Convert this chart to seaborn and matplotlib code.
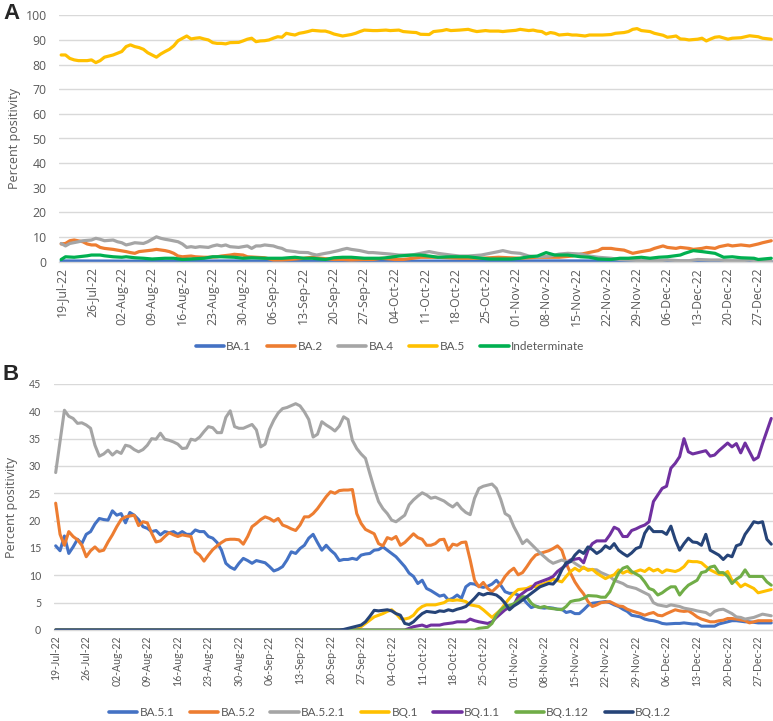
import numpy as np
import pandas as pd
import matplotlib
matplotlib.use("Agg")
import matplotlib.pyplot as plt
from matplotlib.lines import Line2D
import seaborn as sns

# ---------------- DATA (day offset from 19-Jul-22, percent positivity) ----------------
start_date = "2022-07-19"

# Panel A
a_ba1_days = [0, 20, 40, 60, 80, 100, 120, 140, 164]
a_ba1_vals = [0.3, 0.2, 0.3, 0.2, 0.2, 0.3, 0.3, 0.2, 0.1]

a_ba2_days = [0, 1, 2, 3, 5, 6, 7, 8, 9, 10, 12, 13, 15, 16, 17, 18, 20, 21, 22, 24, 25, 26, 27, 28, 30, 31, 33, 34, 36, 37, 39, 40, 42, 43, 45, 47, 49, 51, 53, 56, 58, 60, 63, 65, 67, 70, 72, 74, 77, 79, 83, 87, 92, 97, 101, 106, 110, 115, 118, 121, 124, 125, 127, 128, 130, 132, 134, 136, 137, 139, 140, 142, 143, 145, 146, 148, 149, 151, 152, 154, 155, 157, 159, 161, 162, 164]
a_ba2_vals = [7.2, 7.4, 8.5, 8.8, 8.1, 7.2, 6.8, 6.8, 5.8, 5.4, 5.0, 4.7, 4.1, 3.7, 3.4, 4.1, 4.5, 4.7, 5.0, 4.5, 4.1, 3.4, 2.3, 2.0, 2.3, 2.0, 1.8, 1.8, 2.0, 2.3, 2.7, 3.0, 2.7, 2.0, 1.8, 1.6, 0.7, 0.7, 0.9, 1.4, 1.8, 1.4, 0.9, 0.9, 0.7, 0.9, 0.9, 1.4, 0.9, 0.9, 1.8, 1.8, 1.4, 1.4, 1.8, 1.4, 1.8, 1.8, 2.3, 3.4, 4.5, 5.4, 5.4, 5.1, 4.7, 3.4, 4.1, 4.7, 5.4, 6.4, 5.8, 5.4, 5.8, 5.4, 5.0, 5.4, 5.8, 5.4, 6.1, 6.8, 6.4, 6.8, 6.4, 7.2, 7.7, 8.5]

a_ba4_days = [0, 1, 2, 4, 5, 7, 8, 9, 10, 12, 13, 14, 15, 16, 17, 19, 20, 21, 22, 23, 24, 25, 27, 28, 29, 30, 31, 32, 34, 35, 36, 37, 38, 39, 41, 42, 43, 44, 45, 46, 47, 49, 50, 51, 52, 54, 55, 57, 58, 59, 61, 62, 64, 65, 66, 67, 69, 71, 72, 74, 76, 78, 81, 83, 85, 87, 90, 92, 94, 97, 99, 101, 102, 104, 106, 108, 110, 113, 115, 117, 120, 122, 124, 127, 129, 131, 134, 136, 138, 140, 143, 145, 147, 150, 152, 154, 157, 159, 161, 164]
a_ba4_vals = [7.4, 6.4, 7.4, 8.1, 8.5, 8.8, 9.5, 9.1, 8.5, 8.8, 8.1, 7.7, 6.8, 7.2, 7.7, 7.4, 8.1, 9.1, 10.1, 9.5, 9.1, 8.8, 8.1, 7.2, 5.8, 6.1, 5.8, 6.1, 5.8, 6.4, 6.8, 6.4, 6.8, 6.1, 5.8, 6.1, 6.4, 5.4, 6.4, 6.4, 6.8, 6.4, 5.8, 5.4, 4.5, 4.1, 3.8, 3.7, 3.1, 2.7, 3.4, 3.7, 4.5, 5.0, 5.4, 5.0, 4.5, 3.7, 3.7, 3.4, 3.1, 2.7, 2.7, 3.4, 4.1, 3.4, 2.7, 2.3, 2.3, 2.7, 3.4, 4.1, 4.5, 3.7, 3.4, 2.3, 2.0, 2.3, 3.1, 3.4, 3.1, 2.3, 1.8, 1.4, 0.9, 0.7, 0.4, 0.4, 0.4, 0.7, 0.4, 0.4, 0.9, 0.7, 0.7, 0.4, 0.4, 0.7, 0.3, 0.3]

a_ba5_days = [0, 1, 2, 3, 4, 6, 7, 8, 9, 10, 12, 13, 14, 15, 16, 17, 18, 19, 20, 22, 23, 24, 25, 26, 27, 29, 30, 31, 32, 33, 34, 35, 36, 37, 38, 39, 41, 42, 43, 44, 45, 46, 47, 48, 49, 50, 51, 52, 53, 54, 55, 56, 57, 58, 60, 61, 62, 63, 64, 65, 67, 68, 69, 70, 72, 73, 75, 76, 78, 79, 81, 82, 83, 85, 86, 88, 89, 90, 92, 94, 95, 96, 98, 99, 101, 102, 103, 105, 106, 108, 109, 110, 111, 112, 113, 114, 115, 117, 118, 119, 121, 122, 124, 125, 127, 128, 130, 131, 132, 133, 134, 135, 136, 137, 139, 140, 141, 142, 143, 144, 145, 147, 148, 149, 150, 151, 152, 154, 155, 157, 158, 159, 161, 162, 164]
a_ba5_vals = [83.9, 83.9, 82.5, 81.9, 81.6, 81.6, 81.9, 80.8, 81.6, 83.0, 83.9, 84.6, 85.3, 87.3, 88.0, 87.3, 86.9, 86.2, 84.8, 83.0, 84.3, 85.3, 86.2, 87.6, 89.7, 91.6, 90.4, 90.7, 90.9, 90.4, 90.0, 88.9, 88.6, 88.6, 88.4, 88.9, 89.0, 89.6, 90.3, 90.7, 89.3, 89.6, 89.7, 90.0, 90.7, 91.3, 91.1, 92.7, 92.3, 92.0, 92.7, 93.0, 93.4, 93.9, 93.6, 93.6, 93.1, 92.4, 92.0, 91.6, 92.2, 92.7, 93.4, 94.0, 93.8, 93.8, 94.0, 93.8, 94.0, 93.4, 93.1, 93.0, 92.3, 92.2, 93.4, 93.8, 94.2, 93.8, 94.0, 94.3, 93.8, 93.4, 93.8, 93.6, 93.6, 93.4, 93.6, 93.9, 94.3, 93.8, 94.0, 93.6, 93.4, 92.4, 93.0, 92.7, 92.0, 92.3, 92.0, 92.0, 91.6, 92.0, 92.0, 92.0, 92.2, 92.7, 93.0, 93.4, 94.3, 94.6, 93.8, 93.6, 93.4, 92.7, 91.9, 91.1, 91.3, 91.6, 90.4, 90.3, 90.0, 90.3, 90.7, 89.6, 90.4, 91.1, 91.3, 90.3, 90.7, 90.9, 91.3, 91.7, 91.3, 90.7, 90.3]

a_ind_days = [0, 1, 3, 4, 6, 7, 9, 10, 12, 14, 15, 17, 19, 21, 24, 26, 28, 30, 33, 35, 37, 40, 42, 44, 47, 49, 51, 54, 56, 58, 61, 63, 65, 67, 70, 72, 74, 76, 78, 81, 83, 85, 87, 90, 92, 94, 97, 99, 101, 104, 106, 108, 110, 112, 114, 115, 117, 120, 122, 124, 127, 129, 131, 134, 136, 138, 140, 143, 144, 146, 148, 151, 153, 155, 157, 160, 161, 164]
a_ind_vals = [0.9, 2.0, 1.8, 2.0, 2.4, 2.7, 2.7, 2.4, 2.0, 1.8, 2.0, 1.6, 1.4, 1.1, 1.4, 1.4, 0.9, 1.1, 1.4, 2.0, 2.0, 1.8, 1.4, 1.6, 1.4, 1.4, 1.4, 1.8, 1.4, 1.4, 0.9, 1.6, 1.8, 1.8, 1.4, 1.4, 1.4, 1.8, 2.3, 2.7, 2.7, 2.3, 1.8, 2.0, 2.0, 2.0, 1.4, 1.1, 1.1, 1.1, 1.4, 2.0, 2.3, 3.7, 2.7, 2.7, 2.7, 2.0, 1.8, 1.1, 0.9, 1.4, 1.4, 1.8, 1.4, 1.8, 2.0, 2.7, 3.4, 4.5, 4.1, 3.4, 1.8, 2.0, 1.6, 1.4, 0.9, 1.4]

# Panel B
b_ba51_days = [0, 1, 2, 3, 4, 5, 6, 7, 8, 9, 10, 11, 12, 13, 14, 15, 16, 17, 18, 19, 20, 21, 22, 23, 24, 25, 26, 27, 28, 29, 30, 31, 32, 33, 34, 35, 36, 37, 38, 39, 40, 41, 42, 43, 44, 45, 46, 47, 48, 49, 50, 51, 52, 53, 54, 55, 56, 57, 58, 59, 60, 61, 62, 63, 64, 65, 66, 67, 68, 69, 70, 71, 72, 73, 74, 75, 76, 77, 78, 79, 80, 81, 82, 83, 84, 85, 86, 87, 88, 89, 90, 91, 92, 93, 94, 95, 96, 97, 98, 99, 100, 101, 102, 103, 104, 105, 106, 107, 108, 109, 110, 111, 112, 113, 114, 115, 116, 117, 118, 119, 120, 121, 122, 123, 124, 126, 127, 128, 129, 130, 131, 132, 134, 135, 136, 137, 138, 139, 140, 142, 143, 144, 145, 146, 147, 148, 150, 151, 152, 153, 155, 156, 158, 159, 161, 163, 164]
b_ba51_vals = [15.4, 14.5, 17.2, 14.0, 15.2, 16.6, 15.8, 17.5, 18.0, 19.4, 20.4, 20.2, 20.1, 21.8, 21.0, 21.3, 19.6, 21.5, 21.0, 20.2, 18.9, 18.6, 18.0, 18.2, 17.4, 18.0, 17.8, 18.0, 17.5, 18.0, 17.5, 17.5, 18.3, 18.0, 18.0, 17.1, 16.8, 16.0, 14.6, 12.2, 11.5, 11.1, 12.2, 13.1, 12.7, 12.2, 12.7, 12.5, 12.3, 11.6, 10.8, 11.1, 11.6, 12.8, 14.3, 14.0, 14.9, 15.5, 16.8, 17.5, 16.0, 14.6, 15.5, 14.6, 13.9, 12.7, 12.9, 12.9, 13.1, 12.9, 13.7, 13.9, 14.0, 14.6, 14.7, 15.2, 14.6, 14.0, 13.4, 12.5, 11.6, 10.4, 9.8, 8.5, 9.1, 7.6, 7.2, 6.7, 6.2, 6.4, 5.5, 5.8, 6.4, 5.8, 7.9, 8.5, 8.4, 8.0, 7.8, 8.0, 8.4, 9.1, 8.2, 7.0, 6.7, 6.7, 6.4, 5.8, 4.9, 4.1, 4.4, 4.1, 4.0, 4.1, 4.0, 3.8, 3.8, 3.2, 3.4, 3.0, 3.0, 3.7, 4.5, 4.9, 5.0, 5.2, 5.0, 4.6, 4.3, 3.8, 3.4, 2.7, 2.4, 2.0, 1.8, 1.7, 1.5, 1.2, 1.1, 1.2, 1.2, 1.3, 1.2, 1.1, 1.1, 0.7, 0.7, 0.7, 1.1, 1.3, 1.7, 1.7, 1.5, 1.5, 1.3, 1.3, 1.3]

b_ba52_days = [0, 1, 2, 3, 4, 5, 6, 7, 8, 9, 10, 11, 12, 13, 14, 15, 16, 18, 19, 20, 21, 22, 23, 24, 25, 26, 27, 28, 29, 31, 32, 33, 34, 35, 36, 37, 38, 39, 40, 41, 42, 43, 44, 45, 46, 47, 48, 49, 50, 51, 52, 53, 54, 55, 56, 57, 58, 59, 60, 61, 62, 63, 64, 65, 66, 67, 68, 69, 70, 71, 72, 73, 74, 75, 76, 77, 78, 79, 80, 81, 82, 83, 84, 85, 86, 87, 88, 89, 90, 91, 92, 93, 94, 95, 96, 97, 98, 99, 100, 102, 103, 104, 105, 106, 107, 108, 109, 110, 111, 113, 114, 115, 116, 117, 118, 119, 120, 121, 122, 123, 124, 125, 127, 128, 129, 130, 131, 132, 134, 135, 136, 137, 138, 139, 140, 142, 143, 144, 145, 146, 147, 148, 150, 151, 152, 153, 154, 155, 156, 158, 159, 160, 161, 162, 164]
b_ba52_vals = [23.2, 17.5, 15.5, 18.0, 17.1, 16.5, 15.5, 13.4, 14.5, 15.2, 14.4, 14.6, 16.1, 17.4, 18.9, 20.2, 20.7, 21.0, 19.1, 19.8, 19.6, 17.7, 16.1, 16.3, 17.1, 17.8, 17.4, 17.1, 17.4, 17.1, 14.3, 13.7, 12.6, 13.7, 14.7, 15.4, 16.0, 16.5, 16.6, 16.6, 16.5, 15.7, 17.1, 18.9, 19.5, 20.2, 20.7, 20.4, 19.9, 20.4, 19.2, 18.9, 18.5, 18.2, 19.2, 20.7, 20.7, 21.3, 22.2, 23.3, 24.4, 25.3, 25.0, 25.5, 25.6, 25.6, 25.7, 21.3, 19.5, 18.4, 18.0, 17.6, 15.8, 15.4, 16.9, 16.6, 17.1, 15.5, 16.0, 16.8, 17.6, 16.9, 16.6, 15.5, 15.5, 15.8, 16.5, 16.6, 14.6, 15.7, 15.5, 16.0, 16.1, 12.8, 9.1, 7.9, 8.7, 7.6, 7.0, 8.5, 9.8, 10.7, 11.3, 10.1, 10.5, 11.6, 12.8, 13.7, 14.0, 14.5, 14.9, 15.4, 14.6, 12.2, 10.4, 8.8, 7.6, 6.6, 5.2, 4.3, 4.6, 5.0, 5.2, 4.8, 4.4, 4.3, 3.8, 3.5, 3.0, 2.7, 3.0, 3.2, 2.7, 2.6, 3.0, 3.7, 3.5, 3.4, 3.5, 3.0, 2.4, 2.0, 1.5, 1.5, 1.7, 1.8, 2.1, 2.1, 2.0, 1.7, 1.3, 1.5, 1.7, 1.7, 1.7]

b_ba521_days = [0, 2, 3, 4, 5, 6, 7, 8, 9, 10, 11, 12, 13, 14, 15, 16, 17, 18, 19, 20, 21, 22, 23, 24, 25, 26, 27, 28, 29, 30, 31, 32, 33, 34, 35, 36, 37, 38, 39, 40, 41, 42, 43, 45, 46, 47, 48, 49, 50, 51, 52, 53, 55, 56, 57, 58, 59, 60, 61, 62, 63, 64, 65, 66, 67, 68, 69, 70, 71, 72, 73, 74, 75, 76, 77, 78, 79, 80, 81, 82, 83, 84, 85, 86, 87, 89, 90, 91, 92, 93, 94, 95, 96, 97, 98, 100, 101, 102, 103, 104, 105, 106, 107, 108, 110, 111, 112, 113, 114, 116, 117, 118, 119, 120, 121, 122, 124, 125, 127, 128, 130, 131, 133, 134, 136, 137, 138, 140, 141, 143, 144, 146, 147, 149, 150, 151, 152, 153, 155, 156, 157, 158, 160, 161, 162, 164]
b_ba521_vals = [28.8, 40.2, 39.1, 38.7, 37.8, 37.9, 37.5, 36.9, 33.8, 31.8, 32.2, 32.9, 32.0, 32.7, 32.3, 33.8, 33.6, 33.0, 32.6, 33.0, 33.8, 35.0, 34.9, 36.0, 34.9, 34.7, 34.4, 34.0, 33.2, 33.3, 34.9, 34.7, 35.3, 36.3, 37.2, 37.0, 36.1, 36.1, 38.9, 40.1, 37.2, 36.9, 36.9, 37.6, 36.6, 33.5, 34.0, 36.7, 38.4, 39.7, 40.5, 40.7, 41.4, 41.0, 39.9, 38.5, 35.3, 35.8, 38.1, 37.5, 37.0, 36.4, 37.3, 39.0, 38.5, 34.7, 33.2, 32.2, 31.4, 28.6, 25.9, 23.5, 22.2, 21.3, 20.1, 19.8, 20.4, 21.0, 22.9, 23.8, 24.5, 25.1, 24.7, 24.1, 24.3, 23.6, 23.0, 22.5, 23.2, 22.2, 21.5, 21.1, 24.1, 25.9, 26.3, 26.7, 25.9, 23.9, 21.3, 20.8, 18.9, 17.4, 15.8, 16.5, 14.9, 14.1, 13.4, 12.7, 12.2, 12.8, 12.5, 12.8, 12.2, 11.7, 11.3, 11.1, 11.0, 10.5, 9.8, 9.1, 8.5, 8.0, 7.6, 7.2, 6.4, 5.0, 4.6, 4.3, 4.6, 4.3, 4.0, 3.7, 3.5, 3.2, 2.7, 3.4, 3.7, 3.8, 3.0, 2.4, 2.3, 2.0, 2.3, 2.6, 2.9, 2.6]

b_bq1_days = [0, 68, 69, 70, 71, 72, 73, 74, 75, 76, 77, 78, 79, 80, 81, 82, 83, 84, 85, 87, 88, 89, 90, 91, 92, 93, 94, 95, 97, 98, 99, 100, 101, 102, 103, 104, 105, 106, 108, 109, 110, 111, 112, 113, 114, 116, 117, 118, 119, 120, 121, 122, 123, 124, 126, 127, 128, 129, 130, 131, 132, 134, 135, 136, 137, 138, 139, 140, 142, 143, 144, 145, 146, 147, 148, 149, 150, 152, 153, 154, 155, 156, 157, 158, 160, 161, 162, 164]
b_bq1_vals = [0.0, 0.0, 0.1, 0.6, 1.2, 1.8, 2.4, 2.7, 3.0, 3.4, 3.7, 3.0, 2.1, 2.0, 2.2, 2.7, 3.7, 4.3, 4.6, 4.6, 4.8, 5.0, 5.5, 5.4, 5.5, 5.4, 5.2, 4.6, 4.3, 3.7, 3.0, 2.3, 3.0, 3.7, 4.8, 5.8, 6.7, 7.4, 7.6, 8.0, 7.9, 8.2, 8.5, 8.8, 9.3, 8.8, 9.8, 10.7, 11.3, 10.8, 11.5, 10.9, 11.1, 10.4, 9.4, 9.8, 10.1, 11.0, 10.4, 10.8, 10.4, 11.0, 10.7, 11.3, 10.8, 11.1, 10.5, 11.0, 10.7, 11.0, 11.6, 12.6, 12.5, 12.5, 12.3, 11.6, 11.0, 10.2, 10.1, 10.7, 9.1, 8.8, 7.9, 8.4, 7.6, 6.8, 7.0, 7.4]

b_bq11_days = [0, 80, 81, 82, 84, 85, 86, 88, 89, 91, 92, 94, 95, 96, 97, 99, 100, 101, 102, 103, 105, 106, 107, 108, 109, 110, 111, 113, 114, 115, 116, 117, 118, 120, 121, 122, 123, 124, 126, 127, 128, 129, 130, 131, 132, 133, 134, 135, 136, 137, 138, 139, 140, 141, 142, 143, 144, 145, 146, 147, 149, 150, 151, 152, 153, 154, 155, 156, 157, 158, 160, 161, 162, 164]
b_bq11_vals = [0.0, 0.0, 0.3, 0.6, 0.9, 0.6, 0.9, 0.9, 1.1, 1.3, 1.5, 1.5, 2.0, 1.7, 1.5, 1.2, 1.5, 2.3, 3.0, 3.7, 4.6, 6.1, 6.7, 7.3, 7.6, 8.5, 8.8, 9.4, 9.8, 10.7, 11.3, 11.9, 12.8, 13.1, 12.3, 14.6, 15.8, 16.3, 16.3, 17.4, 18.8, 18.4, 17.1, 17.1, 18.2, 18.5, 18.9, 19.2, 19.8, 23.5, 24.7, 25.9, 26.3, 29.6, 30.5, 31.7, 35.0, 32.6, 32.2, 32.4, 32.8, 31.8, 32.0, 32.8, 33.5, 34.2, 33.5, 34.1, 32.4, 34.2, 31.1, 31.6, 34.1, 38.7]

b_bq112_days = [0, 96, 97, 99, 100, 101, 102, 103, 104, 105, 106, 107, 108, 109, 110, 111, 112, 113, 115, 116, 117, 118, 119, 120, 121, 122, 124, 125, 126, 127, 128, 129, 130, 131, 132, 134, 135, 136, 137, 138, 139, 140, 141, 142, 143, 144, 145, 147, 148, 149, 150, 151, 152, 153, 154, 155, 156, 157, 158, 159, 160, 161, 162, 163, 164]
b_bq112_vals = [0.0, 0.0, 0.3, 0.5, 1.2, 2.7, 3.7, 4.3, 4.5, 4.8, 5.4, 6.1, 6.0, 4.9, 4.3, 4.1, 4.3, 4.0, 3.8, 3.7, 4.3, 5.2, 5.4, 5.5, 5.8, 6.3, 6.2, 6.0, 6.0, 7.0, 8.8, 10.4, 11.3, 11.6, 10.7, 9.8, 8.8, 7.6, 7.3, 6.4, 6.8, 7.4, 7.9, 7.9, 6.4, 7.4, 8.2, 9.1, 10.5, 10.7, 11.5, 11.7, 10.5, 10.5, 9.8, 8.5, 9.3, 9.8, 11.0, 9.8, 9.8, 9.8, 9.8, 8.8, 8.2]

b_bq12_days = [0, 65, 66, 67, 68, 69, 70, 71, 72, 73, 74, 75, 76, 77, 78, 79, 80, 81, 82, 83, 84, 85, 86, 87, 88, 89, 90, 91, 92, 93, 94, 95, 96, 97, 98, 99, 100, 101, 102, 103, 104, 105, 106, 107, 108, 109, 110, 111, 112, 113, 114, 115, 116, 117, 118, 119, 120, 121, 122, 123, 124, 125, 126, 127, 128, 129, 130, 131, 132, 133, 134, 135, 136, 137, 138, 139, 140, 141, 142, 143, 144, 145, 146, 147, 148, 149, 150, 152, 153, 154, 155, 156, 157, 158, 159, 160, 161, 162, 163, 164]
b_bq12_vals = [0.0, 0.0, 0.1, 0.3, 0.5, 0.7, 0.9, 1.5, 2.5, 3.6, 3.5, 3.6, 3.7, 3.5, 3.0, 2.7, 1.2, 1.0, 1.5, 2.3, 3.0, 3.4, 3.3, 3.2, 3.5, 3.4, 3.7, 3.5, 3.8, 4.0, 4.3, 5.0, 5.8, 6.7, 6.4, 6.7, 6.6, 6.4, 5.8, 4.9, 3.7, 4.4, 4.9, 5.5, 6.1, 6.7, 7.3, 7.9, 8.2, 8.5, 8.4, 9.3, 11.0, 12.3, 12.5, 13.7, 14.5, 14.0, 15.2, 14.7, 14.0, 14.5, 15.4, 14.9, 15.8, 14.6, 14.0, 13.5, 14.1, 14.9, 15.2, 17.7, 18.9, 18.0, 18.0, 18.0, 17.5, 19.0, 16.5, 14.6, 15.8, 16.8, 16.1, 16.0, 15.5, 17.5, 14.6, 13.7, 12.9, 13.7, 13.4, 15.4, 15.7, 17.5, 18.6, 19.8, 19.6, 19.8, 16.6, 15.7]

a_series = ["BA.1", "BA.2", "BA.4", "BA.5", "Indeterminate"]
b_series = ["BA.5.1", "BA.5.2", "BA.5.2.1", "BQ.1", "BQ.1.1", "BQ.1.12", "BQ.1.2"]
n_days = 165
tick_every = 7

# ---------------- STYLE ----------------
colors_a = {"BA.1": "#4472C4", "BA.2": "#ED7D31", "BA.4": "#A5A5A5",
            "BA.5": "#FFC000", "Indeterminate": "#00B050"}
colors_b = {"BA.5.1": "#4472C4", "BA.5.2": "#ED7D31", "BA.5.2.1": "#A5A5A5",
            "BQ.1": "#FFC000", "BQ.1.1": "#7030A0", "BQ.1.12": "#70AD47",
            "BQ.1.2": "#264478"}

sns.set_theme(style="white")
plt.rcParams["font.family"] = ["Open Sans", "DejaVu Sans"]

def frame(names, pairs):
    rows = []
    for name, (d, v) in zip(names, pairs):
        rows.append(pd.DataFrame({"day": d, "pct": v, "variant": name}))
    return pd.concat(rows, ignore_index=True)

df_a = frame(a_series, [(a_ba1_days, a_ba1_vals), (a_ba2_days, a_ba2_vals),
                        (a_ba4_days, a_ba4_vals), (a_ba5_days, a_ba5_vals),
                        (a_ind_days, a_ind_vals)])
df_b = frame(b_series, [(b_ba51_days, b_ba51_vals), (b_ba52_days, b_ba52_vals),
                        (b_ba521_days, b_ba521_vals), (b_bq1_days, b_bq1_vals),
                        (b_bq11_days, b_bq11_vals), (b_bq112_days, b_bq112_vals),
                        (b_bq12_days, b_bq12_vals)])

W, H = 773, 721
fig = plt.figure(figsize=(W / 100, H / 100), dpi=100)

def px_axes(l, t, r, b):
    return fig.add_axes([l / W, 1 - b / H, (r - l) / W, (b - t) / H])

ax_a = px_axes(59, 15.3, 773, 261.7)
ax_b = px_axes(53.5, 384, 773, 630)

tick_pos = list(range(0, n_days, tick_every))
tick_lab = pd.date_range(start_date, periods=len(tick_pos), freq=f"{tick_every}D").strftime("%d-%b-%y")

def style_axis(ax, ymax, ystep, tick_font, tick_size, lab_pad, ylab_pad):
    ax.set_xlim(-0.5, 164.4)
    ax.set_ylim(0, ymax)
    ax.set_yticks(np.arange(0, ymax + 0.1, ystep))
    ax.set_xticks(tick_pos)
    ax.set_xticklabels(tick_lab, rotation=90, fontsize=tick_size,
                       color="#595959", family=tick_font)
    for t in ax.get_yticklabels():
        t.set_fontsize(tick_size)
        t.set_color("#595959")
        t.set_family(tick_font)
    ax.tick_params(axis="both", length=0)
    ax.tick_params(axis="y", pad=lab_pad)
    ax.tick_params(axis="x", pad=4)
    ax.yaxis.grid(True, color="#D9D9D9", lw=1.0)
    ax.set_axisbelow(True)
    for s in ["top", "right", "left"]:
        ax.spines[s].set_visible(False)
    ax.spines["bottom"].set_color("#D9D9D9")
    ax.spines["bottom"].set_linewidth(1.0)
    ax.set_xlabel("")
    ax.set_ylabel("Percent positivity", fontsize=9, color="#595959",
                  family=["Open Sans", "DejaVu Sans"], labelpad=ylab_pad)

sns.lineplot(data=df_a, x="day", y="pct", hue="variant", hue_order=a_series,
             palette=colors_a, estimator=None, sort=True, linewidth=2.3,
             legend=False, ax=ax_a)
style_axis(ax_a, 100, 10, ["Open Sans", "DejaVu Sans"], 8.8, 9, 3)

sns.lineplot(data=df_b, x="day", y="pct", hue="variant", hue_order=b_series,
             palette=colors_b, estimator=None, sort=True, linewidth=2.2,
             legend=False, ax=ax_b)
style_axis(ax_b, 45, 5, ["Lato", "DejaVu Sans"], 7.6, 9, 8)

leg_font = {"family": ["Lato", "DejaVu Sans"], "size": 8.5}
for ax, names, cols, y in [(ax_a, a_series, colors_a, 1 - 347 / H),
                           (ax_b, b_series, colors_b, 1 - 713 / H)]:
    handles = [Line2D([0], [0], color=cols[n], lw=2.6) for n in names]
    leg = fig.legend(handles, names, loc="center", bbox_to_anchor=(390 / W, y),
                     ncol=len(names), frameon=False, prop=leg_font,
                     handlelength=2.4, handletextpad=0.2, columnspacing=1.3,
                     borderaxespad=0)
    for t in leg.get_texts():
        t.set_color("#595959")

fig.text(3 / W, 1 - 3 / H, "A", fontsize=16, fontweight="bold",
         family=["Liberation Sans", "DejaVu Sans"], va="top", ha="left")
fig.text(3 / W, 1 - 364 / H, "B", fontsize=16, fontweight="bold",
         family=["Liberation Sans Narrow", "Liberation Sans", "DejaVu Sans"],
         va="top", ha="left")

fig.savefig("out.png", dpi=100)
